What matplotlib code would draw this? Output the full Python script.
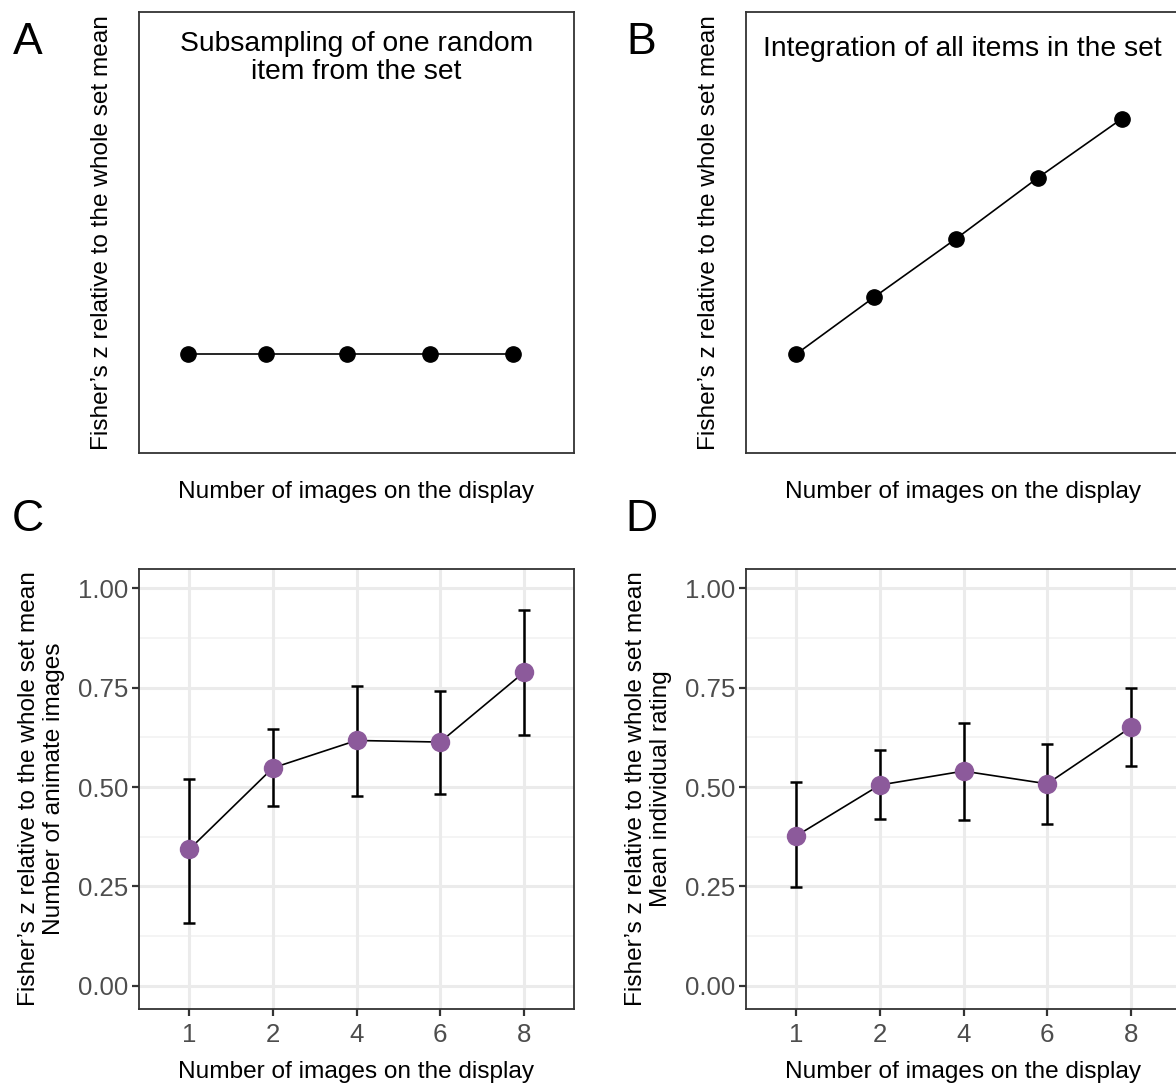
import matplotlib
matplotlib.use("Agg")
import matplotlib.pyplot as plt
import numpy as np

plt.rcParams['font.family'] = ['Liberation Sans', 'DejaVu Sans']

# ---- data ----
# schematic panels (A, B): positions read as fractions of the panel
schem_x = [0.113, 0.292, 0.478, 0.669, 0.860]
schem_x_b = [0.115, 0.294, 0.483, 0.671, 0.864]
subsample_y = [0.224, 0.224, 0.224, 0.224, 0.224]
integration_y = [0.224, 0.353, 0.486, 0.624, 0.758]

categories = ['1', '2', '4', '6', '8']
animate_mean = [0.343, 0.548, 0.617, 0.613, 0.788]
animate_low = [0.158, 0.452, 0.477, 0.482, 0.630]
animate_high = [0.520, 0.645, 0.755, 0.742, 0.945]

rating_mean = [0.377, 0.505, 0.540, 0.508, 0.650]
rating_low = [0.248, 0.420, 0.416, 0.408, 0.553]
rating_high = [0.512, 0.593, 0.660, 0.607, 0.750]

yticks = [0.00, 0.25, 0.50, 0.75, 1.00]
ytick_labels = ['0.00', '0.25', '0.50', '0.75', '1.00']

W, H = 1176, 1085
fig = plt.figure(figsize=(W / 100, H / 100), dpi=100)
fig.patch.set_facecolor('white')

def ax_at(left, top, right, bottom):
    return fig.add_axes([left / W, 1 - bottom / H, (right - left) / W, (bottom - top) / H])

border = '#333333'
grid_major = '#EBEBEB'
grid_minor = '#F2F2F2'
purple = '#8C5A9B'
FS = 17.6
TFS = 18.6
TITLE = 20.3

def style_schematic(ax):
    ax.set_xlim(0, 1)
    ax.set_ylim(0, 1)
    ax.set_xticks([])
    ax.set_yticks([])
    for s in ax.spines.values():
        s.set_color(border)
        s.set_linewidth(1.3)

# Panel A
axA = ax_at(139, 12, 574, 453)
style_schematic(axA)
axA.plot(schem_x, subsample_y, color='black', lw=1.2, marker='o', ms=11, zorder=3)
axA.text(0.5, 0.958, 'Subsampling of one random\nitem from the set', transform=axA.transAxes,
         ha='center', va='top', fontsize=TITLE, linespacing=1.12)
axA.set_ylabel('Fisher’s z relative to the whole set mean', fontsize=FS, labelpad=19)
axA.set_xlabel('Number of images on the display', fontsize=FS, labelpad=20)

# Panel B
axB = ax_at(746, 12, 1181, 453)
style_schematic(axB)
axB.plot(schem_x_b, integration_y, color='black', lw=1.2, marker='o', ms=11, zorder=3)
axB.text(0.038, 0.915, 'Integration of all items in the set', transform=axB.transAxes,
         ha='left', va='center', fontsize=TITLE)
axB.set_ylabel('Fisher’s z relative to the whole set mean', fontsize=FS, labelpad=19)
axB.set_xlabel('Number of images on the display', fontsize=FS, labelpad=20)

def style_data(ax, mean, low, high, ylabel):
    pos = np.arange(1, len(categories) + 1)
    ax.set_xlim(0.4, len(categories) + 0.6)
    ax.set_ylim(-0.058, 1.048)
    # grid
    for yv in [0.125, 0.375, 0.625, 0.875]:
        ax.axhline(yv, color=grid_minor, lw=1.2, zorder=0)
    for yv in yticks:
        ax.axhline(yv, color=grid_major, lw=2.2, zorder=0)
    for xv in pos:
        ax.axvline(xv, color=grid_major, lw=2.2, zorder=0)
    mean = np.array(mean); low = np.array(low); high = np.array(high)
    ax.errorbar(pos, mean, yerr=[mean - low, high - mean], fmt='none', ecolor='black',
                elinewidth=1.8, capsize=4.4, capthick=1.8, zorder=2)
    ax.plot(pos, mean, color='black', lw=1.2, zorder=2.5)
    ax.plot(pos, mean, 'o', color=purple, ms=14, mec='none', zorder=3)
    ax.set_xticks(pos)
    ax.set_xticklabels(categories)
    ax.set_yticks(yticks)
    ax.set_yticklabels(ytick_labels)
    ax.tick_params(axis='both', colors=border, labelcolor='#4D4D4D', labelsize=TFS,
                   length=5, width=1.6)
    ax.tick_params(axis='x', pad=5)
    ax.tick_params(axis='y', pad=3)
    for s in ax.spines.values():
        s.set_color(border)
        s.set_linewidth(1.3)
    ax.set_ylabel(ylabel, fontsize=FS, labelpad=9, linespacing=1.2)
    ax.set_xlabel('Number of images on the display', fontsize=FS, labelpad=10)

axC = ax_at(139, 569, 574, 1009)
style_data(axC, animate_mean, animate_low, animate_high,
           'Fisher’s z relative to the whole set mean\nNumber of animate images')

axD = ax_at(746, 569, 1181, 1009)
style_data(axD, rating_mean, rating_low, rating_high,
           'Fisher’s z relative to the whole set mean\nMean individual rating')

# panel letters
for lab, x, y in [('A', 28, 42), ('B', 641, 42), ('C', 28, 520), ('D', 641, 520)]:
    fig.text(x / W, 1 - y / H, lab, fontsize=32, ha='center', va='center')

fig.savefig('out.png', dpi=100)
